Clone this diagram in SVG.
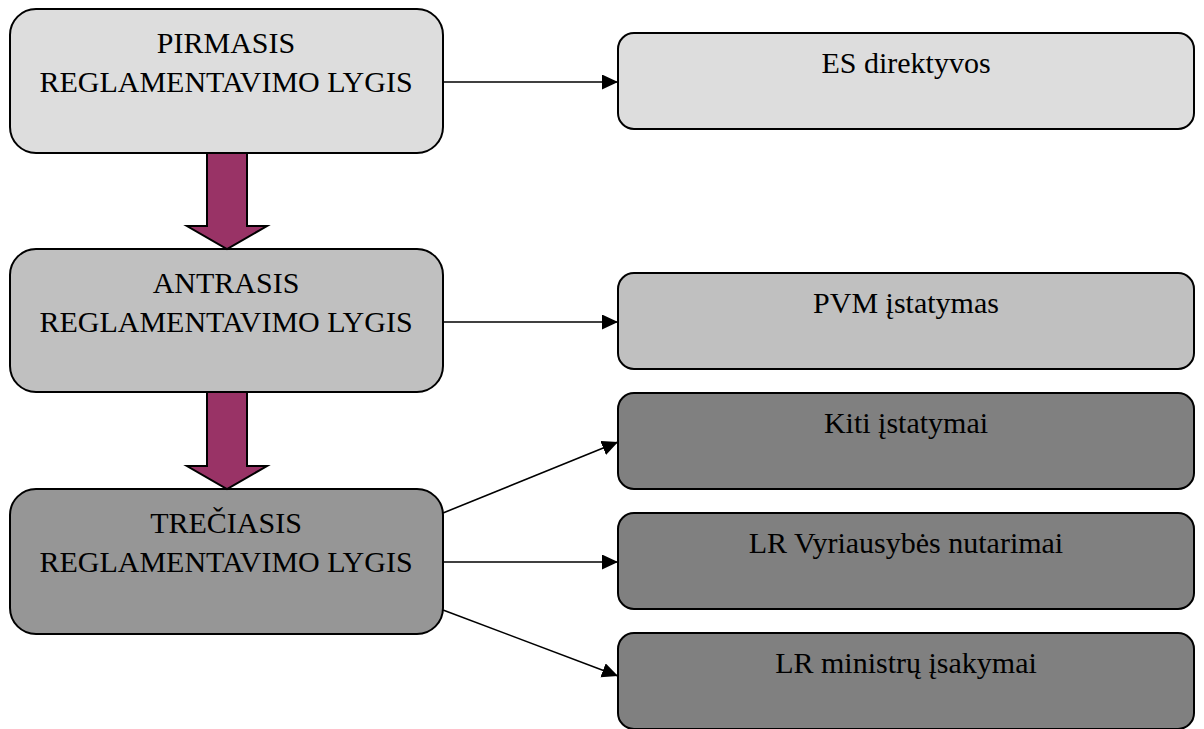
<svg xmlns="http://www.w3.org/2000/svg" width="1204" height="729" viewBox="0 0 1204 729">
<style>
.box{stroke:#000;stroke-width:2}
.l1{fill:#dddddd}.l2{fill:#c0c0c0}.l3{fill:#969696}.d{fill:#808080}
text{font-family:"Liberation Serif","Times New Roman",serif;font-size:30px;fill:#000;text-anchor:middle}
.conn line{stroke:#000;stroke-width:1.6;marker-end:url(#ah)}
.big{fill:#993366;stroke:#000;stroke-width:2;stroke-linejoin:miter}
</style>
<defs>
<marker id="ah" markerUnits="userSpaceOnUse" markerWidth="17" markerHeight="16" refX="16" refY="7.5" orient="auto">
<path d="M0,0 L16,7.5 L0,15 Z" fill="#000"/>
</marker>
</defs>
<rect width="1204" height="729" fill="#fff"/>
<g id="n1"><rect class="box l1" x="10" y="9" width="433" height="144" rx="26"/><text x="226" y="53">PIRMASIS</text><text x="226" y="92">REGLAMENTAVIMO LYGIS</text></g>
<g id="n2"><rect class="box l2" x="10" y="249" width="433" height="143" rx="26"/><text x="226" y="293">ANTRASIS</text><text x="226" y="332">REGLAMENTAVIMO LYGIS</text></g>
<g id="n3"><rect class="box l3" x="10" y="489" width="433" height="145" rx="26"/><text x="226" y="533">TREČIASIS</text><text x="226" y="572">REGLAMENTAVIMO LYGIS</text></g>
<g id="r1"><rect class="box l1" x="618" y="33" width="576" height="96" rx="16"/><text x="906" y="73">ES direktyvos</text></g>
<g id="r2"><rect class="box l2" x="618" y="273" width="576" height="96" rx="16"/><text x="906" y="313">PVM įstatymas</text></g>
<g id="r3"><rect class="box d" x="618" y="393" width="576" height="96" rx="16"/><text x="906" y="433">Kiti įstatymai</text></g>
<g id="r4"><rect class="box d" x="618" y="513" width="576" height="96" rx="16"/><text x="906" y="553">LR Vyriausybės nutarimai</text></g>
<g id="r5"><rect class="box d" x="618" y="633" width="576" height="96" rx="16"/><text x="906" y="673">LR ministrų įsakymai</text></g>
<g id="connectors">
<polygon class="big" points="207,153 247,153 247,226 267,226 227,249 187,226 207,226"/>
<polygon class="big" points="207,392 247,392 247,466 267,466 227,489 187,466 207,466"/>
<g class="conn">
<line x1="443" y1="82" x2="618" y2="82"/>
<line x1="443" y1="322" x2="618" y2="322"/>
<line x1="443" y1="513" x2="618" y2="442"/>
<line x1="443" y1="562" x2="618" y2="562"/>
<line x1="443" y1="610" x2="618" y2="676"/>
</g>
</g>
</svg>
